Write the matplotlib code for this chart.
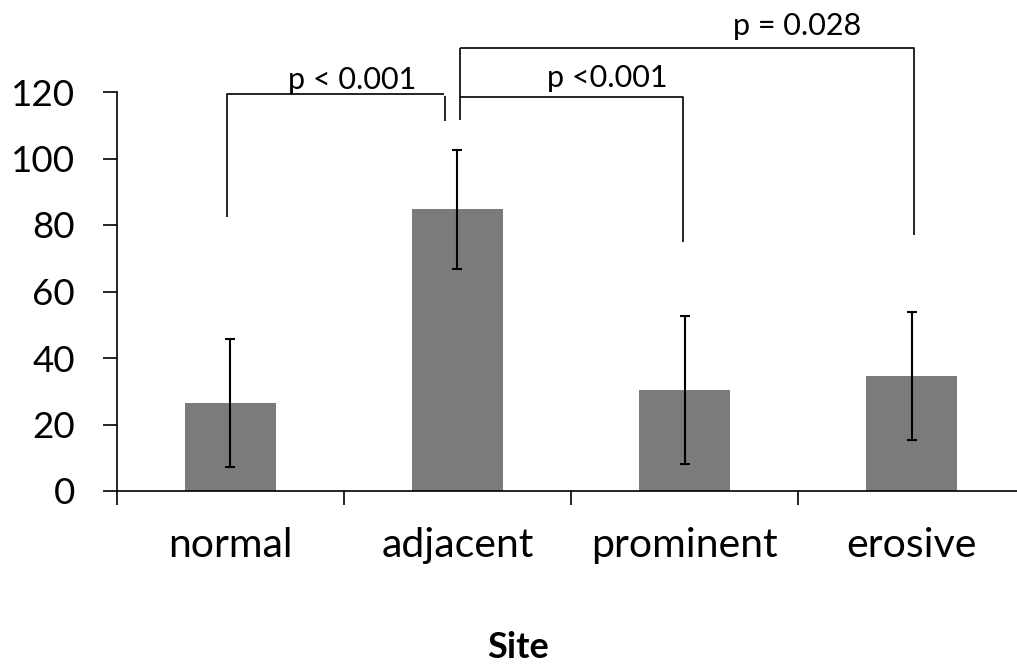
import matplotlib
matplotlib.use('Agg')
import matplotlib.pyplot as plt
import numpy as np

# ---------- Data ----------------------------------------------

sites = ['normal', 'adjacent', 'prominent', 'erosive']
means = [26.5, 84.7, 30.3, 34.5]
errors = [19.3, 17.8, 22.3, 19.2]

y_ticks = [0, 20, 40, 60, 80, 100, 120]

# pairwise comparisons: (left site, right site, label)
comparisons = [
	(0, 1, 'p < 0.001'),
	(1, 2, 'p <0.001'),
	(1, 3, 'p = 0.028'),
]

# ---------- Styling -------------------------------------------

plt.rcParams['font.family'] = ['Lato', 'DejaVu Sans']
bar_color = '#7b7b7b'
line_kw = dict(color='black', lw=1.2, clip_on=False, solid_capstyle='butt')

# ---------- Plot ----------------------------------------------

fig = plt.figure(figsize=(10.17, 6.66), dpi=100)
ax = fig.add_axes([116.5 / 1017, 175 / 666, 909 / 1017, 399 / 666])

x = np.arange(len(sites))
ax.bar(x, means, width=0.4, color=bar_color, zorder=2)
ax.errorbar(x, means, yerr=errors, fmt='none', ecolor='black',
	elinewidth=1.5, capsize=3.4, capthick=1.5, zorder=3)

ax.set_xlim(-0.5, len(sites) - 0.5)
ax.set_ylim(0, 120)
ax.set_yticks(y_ticks)
ax.set_yticklabels([str(t) for t in y_ticks], fontsize=26.5)

# category boundaries carry the ticks, labels sit at bar centres
ax.set_xticks(np.arange(len(sites) + 1) - 0.5)
ax.set_xticklabels([])
ax.set_xticks(x, minor=True)
ax.set_xticklabels(sites, minor=True, fontsize=29.5)
ax.tick_params(axis='x', which='major', direction='out', length=10, width=1.2)
ax.tick_params(axis='x', which='minor', length=0, pad=26)
ax.tick_params(axis='y', direction='out', length=10, width=1.2, pad=20)

for side in ['top', 'right']:
	ax.spines[side].set_visible(False)
for side in ['left', 'bottom']:
	ax.spines[side].set_linewidth(1.2)

# ---------- Significance brackets -----------------------------

# normal vs adjacent
ax.plot([-0.015, -0.015, 0.94], [82.4, 119.4, 119.4], **line_kw)
ax.plot([0.945, 0.945], [118.8, 111.3], **line_kw)
ax.text(0.537, 120.9, comparisons[0][2], ha='center', va='baseline', fontsize=22)

# adjacent vs prominent / erosive share one riser
ax.plot([1.011, 1.011], [111.6, 133.3], **line_kw)
ax.plot([1.011, 1.992, 1.992], [118.6, 118.6, 75.0], **line_kw)
ax.text(1.66, 121.5, comparisons[1][2], ha='center', va='baseline', fontsize=22)
ax.plot([1.011, 3.01, 3.01], [133.3, 133.3, 77.0], **line_kw)
ax.text(2.494, 137.1, comparisons[2][2], ha='center', va='baseline', fontsize=22)

fig.text(518 / 1017, 1 - 648 / 666, 'Site', ha='center', va='center',
	fontsize=26, fontweight='bold')

plt.savefig('out.png', dpi=100)
